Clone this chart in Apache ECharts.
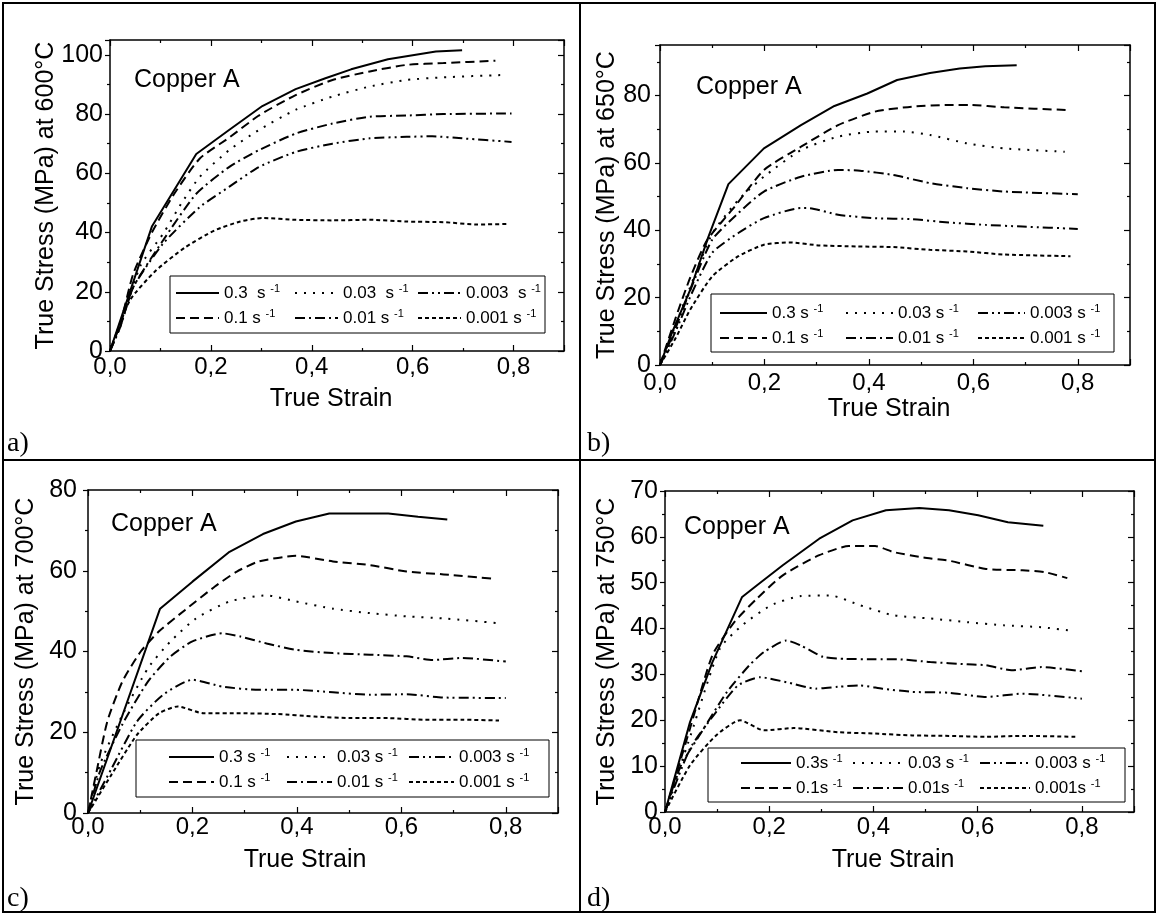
<!DOCTYPE html>
<html>
<head>
<meta charset="utf-8">
<script src="https://cdn.jsdelivr.net/npm/echarts@6/dist/echarts.min.js"></script>
<style>
  html, body { margin: 0; padding: 0; background: #fff; }
  #chart { width: 1158px; height: 915px; }
</style>
</head>
<body>
<div id="chart"></div>
<script>
// strain rates, s^-1 (series order)
const rates = ['0.3', '0.1', '0.03', '0.01', '0.003', '0.001'];
// order inside the legend box: first row, then second row
const legendOrder = ['0.3', '0.03', '0.003', '0.1', '0.01', '0.001'];

const temps = ['600', '650', '700', '750'];
const panelTags = ['a)', 'b)', 'c)', 'd)'];
const yMax = [105, 95, 80, 70];
const yStep = [20, 20, 20, 10];

// legend texts (same order as rates)
const labelsA = ['0.3  s', '0.1 s', '0.03  s', '0.01 s', '0.003  s', '0.001 s'];
const labelsB = ['0.3 s', '0.1 s', '0.03 s', '0.01 s', '0.003 s', '0.001 s'];
const labelsC = ['0.3 s', '0.1 s', '0.03 s', '0.01 s', '0.003 s', '0.001 s'];
const labelsD = ['0.3s', '0.1s', '0.03 s', '0.01s', '0.003 s', '0.001s'];

// ---- 600°C  [true strain, true stress MPa]
const t600_03 = [[0,0],[0.083,42],[0.171,66.5],[0.236,74.6],[0.302,82.7],[0.368,88.4],[0.427,92.1],[0.478,95.1],[0.551,98.5],[0.646,101.1],[0.698,101.5]];
const t600_01 = [[0,0],[0.02,9],[0.046,26],[0.083,40],[0.127,53],[0.178,65],[0.236,72],[0.295,79.5],[0.368,86.4],[0.441,91.5],[0.515,94.4],[0.588,96.6],[0.661,97.2],[0.764,98]];
const t600_003 = [[0,0],[0.03,14],[0.061,29],[0.105,39.5],[0.141,49.7],[0.178,58.8],[0.236,67.8],[0.295,74.6],[0.368,81.4],[0.441,85.9],[0.515,89.3],[0.588,91.5],[0.661,92.4],[0.782,93.2]];
const t600_001 = [[0,0],[0.02,8],[0.046,21.5],[0.105,37.3],[0.171,53.1],[0.236,62.1],[0.295,67.8],[0.368,73.4],[0.441,76.8],[0.515,79.1],[0.588,79.5],[0.661,80],[0.796,80.2]];
const t600_0003 = [[0,0],[0.02,8],[0.046,21.5],[0.105,36.2],[0.178,48.6],[0.236,55.4],[0.295,62.1],[0.368,67.2],[0.441,70],[0.515,71.8],[0.588,72.3],[0.639,72.5],[0.698,71.8],[0.796,70.6]];
const t600_0001 = [[0,0],[0.039,17],[0.09,27],[0.149,35],[0.207,40.7],[0.258,43.7],[0.302,44.9],[0.368,44.3],[0.441,44.1],[0.515,44.3],[0.588,43.7],[0.661,43.5],[0.727,42.7],[0.789,42.9]];

// ---- 650°C
const t650_03 = [[0,0],[0.023,9.6],[0.058,22.4],[0.093,38.2],[0.131,53.7],[0.199,64.3],[0.27,71.2],[0.334,76.9],[0.397,80.6],[0.454,84.6],[0.517,86.7],[0.574,88],[0.623,88.7],[0.683,89]];
const t650_01 = [[0,0],[0.03,14],[0.058,26],[0.09,37],[0.143,47],[0.199,57.9],[0.27,64.8],[0.341,71.2],[0.411,75.2],[0.482,76.7],[0.553,77.2],[0.595,77.2],[0.659,76.5],[0.779,75.7]];
const t650_003 = [[0,0],[0.03,12],[0.06,24],[0.1,39],[0.15,49],[0.199,55.9],[0.27,63.8],[0.341,67.8],[0.411,69.3],[0.468,69.3],[0.517,68.3],[0.588,65.8],[0.659,64.3],[0.775,63.3]];
const t650_001 = [[0,0],[0.03,11],[0.06,23],[0.1,37.2],[0.15,45.1],[0.199,51.5],[0.27,55.9],[0.341,57.9],[0.383,57.7],[0.447,56.4],[0.517,54],[0.588,52.5],[0.659,51.5],[0.8,50.7]];
const t650_0003 = [[0,0],[0.03,10],[0.06,21],[0.1,33.3],[0.15,39.2],[0.199,43.6],[0.27,46.6],[0.284,46.6],[0.341,44.6],[0.411,43.6],[0.482,43.3],[0.553,42.3],[0.623,41.6],[0.694,41.1],[0.8,40.4]];
const t650_0001 = [[0,0],[0.03,8],[0.058,16.5],[0.1,26.3],[0.15,32.3],[0.199,35.7],[0.249,36.4],[0.305,35.5],[0.376,35.2],[0.447,35],[0.517,34.2],[0.588,33.7],[0.659,32.8],[0.786,32.3]];

// ---- 700°C
const t700_03 = [[0,0],[0.138,50.6],[0.2,57.3],[0.271,64.7],[0.335,69.1],[0.398,72.2],[0.462,74.2],[0.525,74.2],[0.575,74.2],[0.632,73.4],[0.688,72.7]];
const t700_01 = [[0,0],[0.016,10],[0.037,22.7],[0.066,32.6],[0.101,40],[0.136,45],[0.186,50.3],[0.243,56.1],[0.285,59.8],[0.327,62.3],[0.398,63.7],[0.469,62.3],[0.54,61.4],[0.61,59.8],[0.681,59.1],[0.78,58]];
const t700_003 = [[0,0],[0.023,12],[0.066,24.3],[0.115,35.9],[0.158,42.5],[0.207,48.2],[0.271,52.4],[0.342,53.9],[0.398,52.4],[0.469,50.6],[0.54,49.5],[0.61,48.7],[0.681,48.2],[0.787,47]];
const t700_001 = [[0,0],[0.023,10.3],[0.066,22],[0.115,32.6],[0.158,38.8],[0.2,42.5],[0.257,44.5],[0.292,43.7],[0.342,42],[0.398,40.4],[0.469,39.6],[0.54,39.2],[0.61,38.8],[0.66,37.9],[0.716,38.4],[0.8,37.5]];
const t700_0003 = [[0,0],[0.045,11],[0.094,22.7],[0.144,29.3],[0.2,33],[0.257,31.3],[0.327,30.5],[0.398,30.5],[0.469,29.9],[0.54,29.3],[0.61,29.4],[0.681,28.6],[0.8,28.5]];
const t700_0001 = [[0,0],[0.045,9.5],[0.094,19.4],[0.136,24.7],[0.172,26.4],[0.221,24.7],[0.292,24.7],[0.363,24.5],[0.433,23.9],[0.504,23.5],[0.575,23.5],[0.646,23.1],[0.716,23.1],[0.787,22.9]];

// ---- 750°C
const t750_03 = [[0,0],[0.048,19.6],[0.091,32.7],[0.148,46.9],[0.176,49.4],[0.226,53.8],[0.296,59.6],[0.36,63.6],[0.424,65.8],[0.488,66.3],[0.545,65.8],[0.601,64.7],[0.658,63.2],[0.726,62.4]];
const t750_01 = [[0,0],[0.048,18.2],[0.091,34.2],[0.133,41.4],[0.176,46.5],[0.226,51.6],[0.296,56],[0.353,58],[0.403,58],[0.438,56.7],[0.495,55.5],[0.545,54.8],[0.616,53],[0.686,52.7],[0.729,52.3],[0.772,51]];
const t750_003 = [[0,0],[0.05,17],[0.105,35.6],[0.148,40.7],[0.204,45.1],[0.261,47.1],[0.318,47.2],[0.374,45.1],[0.438,42.9],[0.509,42.2],[0.58,41.4],[0.651,40.7],[0.722,40.3],[0.775,39.6]];
const t750_001 = [[0,0],[0.03,10],[0.07,17.4],[0.119,26.2],[0.162,32],[0.19,34.9],[0.233,37.4],[0.261,36.3],[0.304,33.8],[0.346,33.4],[0.403,33.3],[0.445,33.3],[0.509,32.7],[0.58,32.2],[0.616,32],[0.665,30.9],[0.722,31.6],[0.8,30.7]];
const t750_0003 = [[0,0],[0.048,13.8],[0.098,21.8],[0.14,27.6],[0.183,29.4],[0.233,28.3],[0.289,26.9],[0.332,27.3],[0.374,27.6],[0.417,26.9],[0.474,26.2],[0.545,26],[0.616,25.1],[0.686,25.8],[0.8,24.7]];
const t750_0001 = [[0,0],[0.048,10.2],[0.098,16.7],[0.144,20],[0.19,17.8],[0.247,18.3],[0.332,17.4],[0.403,17.1],[0.474,16.7],[0.545,16.6],[0.616,16.4],[0.686,16.6],[0.789,16.4]];

const panelSeries = [
  [t600_03, t600_01, t600_003, t600_001, t600_0003, t600_0001],
  [t650_03, t650_01, t650_003, t650_001, t650_0003, t650_0001],
  [t700_03, t700_01, t700_003, t700_001, t700_0003, t700_0001],
  [t750_03, t750_01, t750_003, t750_001, t750_0003, t750_0001],
];
const panelLabels = [labelsA, labelsB, labelsC, labelsD];

// line pattern per strain rate
const dashes = {
  '0.3': 'solid',
  '0.1': [9, 5],
  '0.03': [2, 7],
  '0.01': [10, 4, 2, 4],
  '0.003': [10, 4, 2, 4, 2, 4],
  '0.001': [4, 3],
};

// placement of each panel (pixels)
const layout = [
  { grid: { left: 110, top: 40, width: 454, height: 311 }, yGap: 51, yMargin: 7, xMargin: 4, xGap: 36, xShift: 12,
    copper: [134, 82], tag: [7, 445], box: [170, 276, 375, 57], cols: [175, 294, 417], rows: [293, 318], iw: 43 },
  { grid: { left: 660, top: 45, width: 470, height: 320 }, yGap: 40, yMargin: 9, xMargin: 6, xGap: 32, xShift: 12,
    copper: [696, 89], tag: [587, 445], box: [711, 294, 403, 58], cols: [719, 845, 977], rows: [313, 338], iw: 47 },
  { grid: { left: 88, top: 490, width: 470, height: 323 }, yGap: 49, yMargin: 11, xMargin: 2, xGap: 35, xShift: 36,
    copper: [111, 526], tag: [7, 900], box: [136, 740, 413, 57], cols: [168, 286, 408], rows: [757, 782], iw: 45 },
  { grid: { left: 665, top: 491, width: 469, height: 321 }, yGap: 45, yMargin: 7, xMargin: 3, xGap: 36, xShift: 13,
    copper: [684, 529], tag: [587, 900], box: [708, 748, 417, 54], cols: [740, 852, 979], rows: [763, 788], iw: 50 },
];

const FONT = 'Liberation Sans, Arial, sans-serif';
const black = '#000';
const axisLine = { show: true, onZero: false, lineStyle: { color: black, width: 1.5 } };

const grids = [], xAxes = [], yAxes = [], series = [], legends = [], graphics = [];

layout.forEach((p, i) => {
  grids.push(Object.assign({ outerBoundsMode: 'none', containLabel: false }, p.grid));

  // bottom + mirrored top axis
  xAxes.push({
    type: 'value', gridIndex: i, position: 'bottom', min: 0, max: 0.9, interval: 0.2,
    axisLine,
    axisTick: { inside: true, length: 6, lineStyle: { color: black, width: 1.2 } },
    minorTick: { show: true, splitNumber: 2, length: 3, lineStyle: { color: black, width: 1.2 } },
    splitLine: { show: false },
    axisLabel: {
      color: black, fontSize: 24, fontFamily: FONT, margin: p.xMargin, showMaxLabel: false,
      formatter: (v) => v.toFixed(1).replace('.', ','),
    },
    name: 'True Strain', nameLocation: 'middle', nameGap: p.xGap, nameMoveOverlap: false,
    nameTextStyle: { color: black, fontSize: 25, fontFamily: FONT, padding: [0, p.xShift, 0, 0] },
  });
  xAxes.push({
    type: 'value', gridIndex: i, position: 'top', min: 0, max: 0.9, interval: 0.2,
    axisLine,
    axisTick: { inside: true, length: 6, lineStyle: { color: black, width: 1.2 } },
    minorTick: { show: true, splitNumber: 2, length: 3, lineStyle: { color: black, width: 1.2 } },
    splitLine: { show: false }, axisLabel: { show: false },
  });

  // left + mirrored right axis
  yAxes.push({
    type: 'value', gridIndex: i, position: 'left', min: 0, max: yMax[i], interval: yStep[i],
    axisLine,
    axisTick: { inside: false, length: 5, lineStyle: { color: black, width: 1.2 } },
    minorTick: { show: true, splitNumber: 2, length: 3, lineStyle: { color: black, width: 1.2 } },
    splitLine: { show: false },
    axisLabel: { color: black, fontSize: 25, fontFamily: FONT, margin: p.yMargin, showMaxLabel: yMax[i] % yStep[i] === 0 },
    name: 'True Stress (MPa) at ' + temps[i] + '°C', nameLocation: 'middle', nameRotate: 90,
    nameGap: p.yGap, nameMoveOverlap: false,
    nameTextStyle: { color: black, fontSize: 25, fontFamily: FONT },
  });
  yAxes.push({
    type: 'value', gridIndex: i, position: 'right', min: 0, max: yMax[i], interval: yStep[i],
    axisLine,
    axisTick: { inside: true, length: 6, lineStyle: { color: black, width: 1.2 } },
    minorTick: { show: true, splitNumber: 2, length: 3, lineStyle: { color: black, width: 1.2 } },
    splitLine: { show: false }, axisLabel: { show: false },
  });

  rates.forEach((r, k) => {
    series.push({
      name: i + '|' + r,
      type: 'line',
      xAxisIndex: 2 * i,
      yAxisIndex: 2 * i,
      data: panelSeries[i][k],
      symbol: 'none',
      smooth: r === '0.3' ? false : 0.2,
      silent: true,
      itemStyle: { color: black },
      lineStyle: { color: black, width: 2, type: dashes[r] },
    });
  });

  // one legend per entry so the 3x2 arrangement matches the box
  legendOrder.forEach((r, k) => {
    const row = Math.floor(k / 3), col = k % 3;
    const txt = panelLabels[i][rates.indexOf(r)];
    legends.push({
      data: [i + '|' + r],
      left: p.cols[col], top: p.rows[row] - 10,
      padding: 0, itemWidth: p.iw, itemHeight: 20, selectedMode: false,
      itemStyle: { color: 'transparent', borderWidth: 0, opacity: 0 },
      formatter: () => txt + ' {sup|-1}',
      textStyle: {
        color: black, fontSize: 17, fontFamily: FONT, lineHeight: 20,
        rich: { sup: { fontSize: 11, fontFamily: FONT, color: black, lineHeight: 11, verticalAlign: 'top' } },
      },
    });
  });

  graphics.push({
    type: 'rect', shape: { x: p.box[0], y: p.box[1], width: p.box[2], height: p.box[3] },
    style: { fill: 'transparent', stroke: black, lineWidth: 1 }, z: 10,
  });
  graphics.push({
    type: 'text', left: p.copper[0], top: p.copper[1] - 14,
    style: { text: 'Copper A', fontSize: 25, fontFamily: FONT, fill: black },
  });
  graphics.push({
    type: 'text', left: p.tag[0], top: p.tag[1] - 15,
    style: { text: panelTags[i], fontSize: 28, fontFamily: 'Liberation Serif, Times New Roman, serif', fill: black },
  });
});

// frame and dividers of the 2x2 figure
graphics.push({ type: 'rect', shape: { x: 3, y: 3, width: 1152, height: 909 }, style: { fill: 'transparent', stroke: black, lineWidth: 2 } });
graphics.push({ type: 'line', shape: { x1: 580, y1: 3, x2: 580, y2: 912 }, style: { stroke: black, lineWidth: 2 } });
graphics.push({ type: 'line', shape: { x1: 3, y1: 460, x2: 1155, y2: 460 }, style: { stroke: black, lineWidth: 2 } });

const chart = echarts.init(document.getElementById('chart'));
chart.setOption({
  animation: false,
  backgroundColor: '#fff',
  grid: grids,
  xAxis: xAxes,
  yAxis: yAxes,
  legend: legends,
  series: series,
  graphic: graphics,
});
</script>
</body>
</html>
